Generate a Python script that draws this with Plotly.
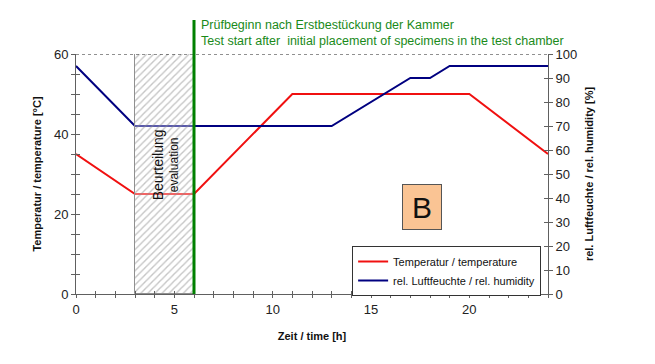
import plotly.graph_objects as go

# ---- data ----
temp_time = [0, 3, 6, 11, 20, 24]
temp_values = [35, 25, 25, 50, 50, 35]          # °C (left axis)
hum_time = [0, 3, 6, 13, 17, 18, 19, 24]
hum_values = [95, 70, 70, 70, 90, 90, 95, 95]   # % (right axis)
eval_start, eval_end = 3, 6                     # Beurteilung / evaluation window [h]
test_start = 6                                  # Prüfbeginn [h]
temp_max = 60
x_ticks = list(range(0, 25))
x_labels = [str(v) if v % 5 == 0 else "" for v in x_ticks]
yl_ticks = list(range(0, 61, 5))
yl_labels = [str(v) if v % 20 == 0 else "" for v in yl_ticks]
yr_ticks = list(range(0, 101, 10))
yr_labels = [str(v) for v in yr_ticks]

RED = "#F01010"
NAVY = "#000080"
GREEN = "#008000"
AX = "#606060"
FONT = "Liberation Sans, Arial, sans-serif"

fig = go.Figure()

fig.add_trace(go.Scatter(x=temp_time, y=temp_values, mode="lines",
                         line=dict(color=RED, width=2),
                         name="Temperatur / temperature", xaxis="x", yaxis="y"))
fig.add_trace(go.Scatter(x=hum_time, y=hum_values, mode="lines",
                         line=dict(color=NAVY, width=2),
                         name="rel. Luftfeuchte / rel. humidity", xaxis="x", yaxis="y2"))

# hatched evaluation window (drawn over the lines, semi-transparent background)
fig.add_trace(go.Bar(
    x=[(eval_start + eval_end) / 2], y=[temp_max], width=[eval_end - eval_start], base=0,
    marker=dict(color="rgba(255,255,255,0.35)", line=dict(color="#909090", width=1),
                pattern=dict(shape="/", fgcolor="#8c8c8c", bgcolor="rgba(255,255,255,0.35)",
                             size=5, solidity=0.28)),
    showlegend=False, hoverinfo="skip", xaxis="x2", yaxis="y3"))

# invisible helper for inner tick marks on the right
fig.add_trace(go.Scatter(x=[0], y=[0], mode="markers", marker=dict(opacity=0),
                         showlegend=False, hoverinfo="skip", xaxis="x2", yaxis="y4"))

tickfont = dict(family=FONT, size=13, color="#222")
titlefont = dict(family=FONT, size=11, color="#111", weight="bold")

fig.update_layout(
    width=647, height=356,
    margin=dict(l=68, r=107, t=46, b=70),
    paper_bgcolor="white", plot_bgcolor="white",
    bargap=0,
    xaxis=dict(range=[0, 24], tickvals=x_ticks, ticktext=x_labels, ticks="outside",
               ticklen=3, tickcolor=AX, showline=True, linecolor=AX, linewidth=1,
               showgrid=False, zeroline=False, tickfont=tickfont,
               title=dict(text="Zeit / time [h]", font=titlefont, standoff=16)),
    xaxis2=dict(range=[0, 24], overlaying="x", anchor="y3", tickvals=x_ticks,
                ticks="inside", ticklen=3, tickcolor=AX, showticklabels=False,
                showline=False, showgrid=False, zeroline=False, side="bottom"),
    yaxis=dict(range=[0, 60], tickvals=yl_ticks, ticktext=yl_labels, ticks="outside",
               ticklen=4, tickcolor=AX, showline=True, linecolor=AX, linewidth=1,
               showgrid=False, zeroline=False, tickfont=tickfont,
               title=dict(text="Temperatur / temperature [°C]", font=titlefont, standoff=10)),
    yaxis2=dict(range=[0, 100], overlaying="y", side="right", anchor="x",
                tickvals=yr_ticks, ticktext=yr_labels, ticks="outside", ticklen=4,
                tickcolor=AX, showline=True, linecolor=AX, linewidth=1,
                showgrid=False, zeroline=False, tickfont=tickfont,
                title=dict(text="rel. Luftfeuchte / rel. humidity [%]", font=titlefont, standoff=8)),
    yaxis3=dict(range=[0, 60], overlaying="y", anchor="x2", tickvals=yl_ticks,
                ticks="inside", ticklen=4, tickcolor=AX, showticklabels=False,
                showline=False, showgrid=False, zeroline=False),
    yaxis4=dict(range=[0, 100], overlaying="y", side="right", anchor="x2", tickvals=yr_ticks,
                ticks="inside", ticklen=4, tickcolor=AX, showticklabels=False,
                showline=False, showgrid=False, zeroline=False),
    legend=dict(x=0.585, y=0.2, xanchor="left", yanchor="top",
                bgcolor="white", bordercolor="#333", borderwidth=1,
                font=dict(family=FONT, size=11, color="#111"),
                tracegroupgap=0, itemwidth=30),
    showlegend=True,
)

# dotted top boundary at 60 °C
fig.add_shape(type="line", xref="x", yref="y", x0=0, x1=24, y0=temp_max, y1=temp_max,
              line=dict(color="#222", width=1, dash="dot"))
# green test-start line
fig.add_shape(type="line", xref="x", yref="paper", x0=test_start, x1=test_start,
              y0=0, y1=1.142, line=dict(color=GREEN, width=3))

fig.add_annotation(xref="paper", yref="paper", x=0.2606, y=1.088, xanchor="left",
                   yanchor="middle", align="left", showarrow=False,
                   text="Prüfbeginn nach Erstbestückung der Kammer<br>"
                        "Test start after  initial placement of specimens in the test chamber",
                   font=dict(family=FONT, size=12.5, color="#1a8a1a"))

fig.add_annotation(xref="x", yref="y", x=4.55, y=32.3, textangle=-90, showarrow=False,
                   text="<span style='font-size:14px'>Beurteilung</span><br>evaluation",
                   align="center",
                   font=dict(family=FONT, size=12, color="#111"))

fig.add_annotation(xref="x", yref="y", x=17.6, y=21.75, showarrow=False, text="B",
                   font=dict(family=FONT, size=30, color="#111"),
                   bgcolor="#FAC494", bordercolor="#555", borderwidth=1,
                   width=36, height=42)

fig.write_html("out.html")
